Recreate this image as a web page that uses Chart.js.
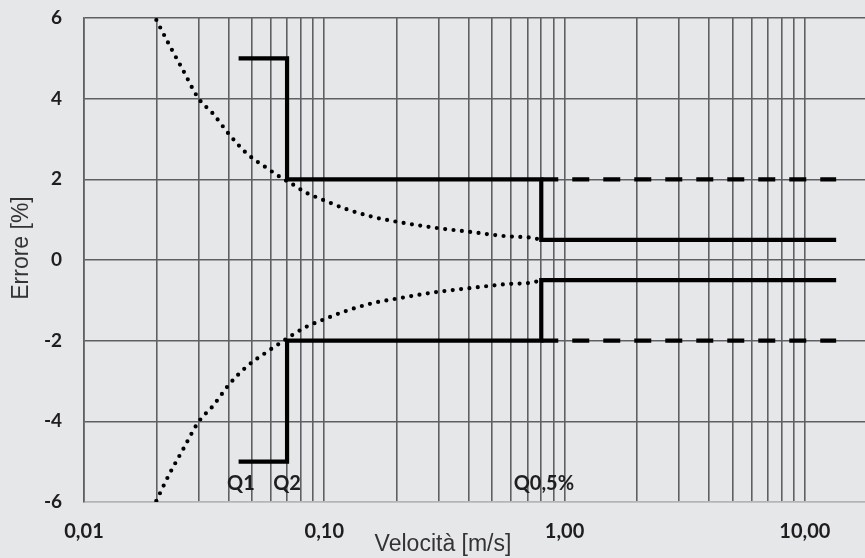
<!DOCTYPE html>
<html><head><meta charset="utf-8">
<script src="https://cdn.jsdelivr.net/npm/chart.js@4.4.0/dist/chart.umd.min.js"></script>
<style>html,body{margin:0;padding:0;background:#e6e7e9;overflow:hidden}canvas{display:block}</style>
</head><body><canvas id="c" width="865" height="558"></canvas>
<script>
// ---- data ----
const xGridValues = [0.01,0.02,0.03,0.04,0.05,0.06,0.07,0.08,0.09,
                     0.1,0.2,0.3,0.4,0.5,0.6,0.7,0.8,0.9,
                     1,2,3,4,5,6,7,8,9,10];
const xLabelValues = [0.01, 0.1, 1, 10];
const xLabelTexts = ['0,01', '0,10', '1,00', '10,00'];
const yTickValues = [-6, -4, -2, 0, 2, 4, 6];

// limit step lines (upper / lower)
const upperStepX = [0.044, 0.07, 0.07, 0.8, 0.8, 13.5];
const upperStepY = [5, 5, 2, 2, 0.5, 0.5];
const lowerStepX = [0.044, 0.07, 0.07, 0.8, 0.8, 13.5];
const lowerStepY = [-5, -5, -2, -2, -0.5, -0.5];

// dashed continuation of the ±2 % limit
const upperDashX = [0.8, 13.5];
const upperDashY = [2, 2];
const lowerDashX = [0.8, 13.5];
const lowerDashY = [-2, -2];

// dotted error curves
const upperCurveX = [0.02, 0.0227, 0.0257, 0.03, 0.0344, 0.04, 0.0476, 0.058, 0.067, 0.0727, 0.084, 0.098, 0.125, 0.159, 0.204, 0.289, 0.4, 0.57, 0.73, 0.8];
const upperCurveY = [5.95, 5.32, 4.73, 4.0, 3.63, 3.13, 2.64, 2.27, 2.02, 1.90, 1.67, 1.50, 1.25, 1.07, 0.94, 0.80, 0.70, 0.59, 0.55, 0.5];
const lowerCurveX = [0.02, 0.0227, 0.0257, 0.03, 0.0344, 0.04, 0.0476, 0.058, 0.067, 0.0727, 0.084, 0.098, 0.125, 0.159, 0.204, 0.289, 0.4, 0.57, 0.73, 0.8];
const lowerCurveY = [-5.97, -5.3, -4.72, -4.01, -3.62, -3.10, -2.64, -2.27, -2.02, -1.88, -1.66, -1.49, -1.25, -1.07, -0.95, -0.80, -0.70, -0.60, -0.56, -0.5];

// annotation labels
const markerTexts = ['Q1', 'Q2', 'Q0,5%'];
const markerX = [0.045, 0.07, 0.82];

const xTitle = 'Velocità [m/s]';
const yTitle = 'Errore [%]';

// ---- chart ----
const pts = (xs, ys) => xs.map((x, i) => ({x, y: ys[i]}));
const BG = '#e6e7e9';
const GRID = '#5e6063';

const solid = {borderColor:'#000', borderWidth:4.2, pointRadius:0, tension:0, borderJoinStyle:'miter', borderCapStyle:'butt', fill:false};
const dashed = Object.assign({}, solid, {borderWidth:4.4, borderDash:[17,14]});
const dotted = {borderColor:'#000', borderWidth:4.2, pointRadius:0, borderDash:[0,8.4], borderCapStyle:'round', cubicInterpolationMode:'monotone', fill:false};

const bgPlugin = {
  id:'bg',
  beforeDraw(chart){
    const ctx = chart.ctx;
    ctx.save(); ctx.fillStyle = BG; ctx.fillRect(0,0,chart.width,chart.height); ctx.restore();
  },
  afterDraw(chart){
    const ctx = chart.ctx, xs = chart.scales.x, ys = chart.scales.y;
    ctx.save();
    ctx.fillStyle = '#1e1e1e';
    ctx.font = 'bold 20px Lato';
    ctx.textAlign = 'center'; ctx.textBaseline = 'middle';
    markerTexts.forEach((t,i)=>{
      ctx.fillText(t, xs.getPixelForValue(markerX[i]), ys.getPixelForValue(-5.55));
    });
    ctx.fillStyle = '#333';
    ctx.font = '23px "Liberation Sans", Arial, sans-serif';
    ctx.fillText(xTitle, 443, 545);
    ctx.translate(22, 248);
    ctx.rotate(-Math.PI/2);
    ctx.fillText(yTitle, 0, 0);
    ctx.restore();
  }
};

new Chart(document.getElementById('c'), {
  type:'line',
  data:{datasets:[
    Object.assign({data:pts(upperCurveX, upperCurveY)}, dotted),
    Object.assign({data:pts(lowerCurveX, lowerCurveY)}, dotted),
    Object.assign({data:pts(upperDashX, upperDashY)}, dashed),
    Object.assign({data:pts(lowerDashX, lowerDashY)}, dashed),
    Object.assign({data:pts(upperStepX, upperStepY)}, solid),
    Object.assign({data:pts(lowerStepX, lowerStepY)}, solid)
  ]},
  options:{
    responsive:false, animation:false, devicePixelRatio:1,
    layout:{padding:{top:18, right:0, left:0, bottom:0}},
    plugins:{legend:{display:false}, tooltip:{enabled:false}},
    scales:{
      x:{
        type:'logarithmic', min:0.01, max:17.8,
        afterBuildTicks(s){ s.ticks = xGridValues.map(v=>({value:v})); },
        afterFit(s){ s.height = 56; s.paddingLeft = 0; s.paddingRight = 0; },
        grid:{color:GRID, lineWidth:1.6, drawTicks:false},
        border:{color:'#b4b5b7', width:1.5},
        ticks:{
          autoSkip:false, maxRotation:0, padding:18, color:'#1e1e1e',
          font:{family:'Lato', weight:'bold', size:20},
          callback(v){ const i = xLabelValues.findIndex(a=>Math.abs(a-v)/a<1e-6); return i>=0 ? xLabelTexts[i] : ''; }
        }
      },
      y:{
        min:-6, max:6,
        afterBuildTicks(s){ s.ticks = yTickValues.map(v=>({value:v})); },
        afterFit(s){ s.width = 84; s.paddingTop = 0; s.paddingBottom = 0; },
        grid:{color:(c)=> c.tick && c.tick.value === -6 ? '#b4b5b7' : GRID, lineWidth:1.6, drawTicks:false},
        border:{color:GRID, width:1.6},
        ticks:{padding:22, color:'#1e1e1e', font:{family:'Lato', weight:'bold', size:19},
          callback(v){ return String(v); }}
      }
    }
  },
  plugins:[bgPlugin]
});
</script>
</body></html>
